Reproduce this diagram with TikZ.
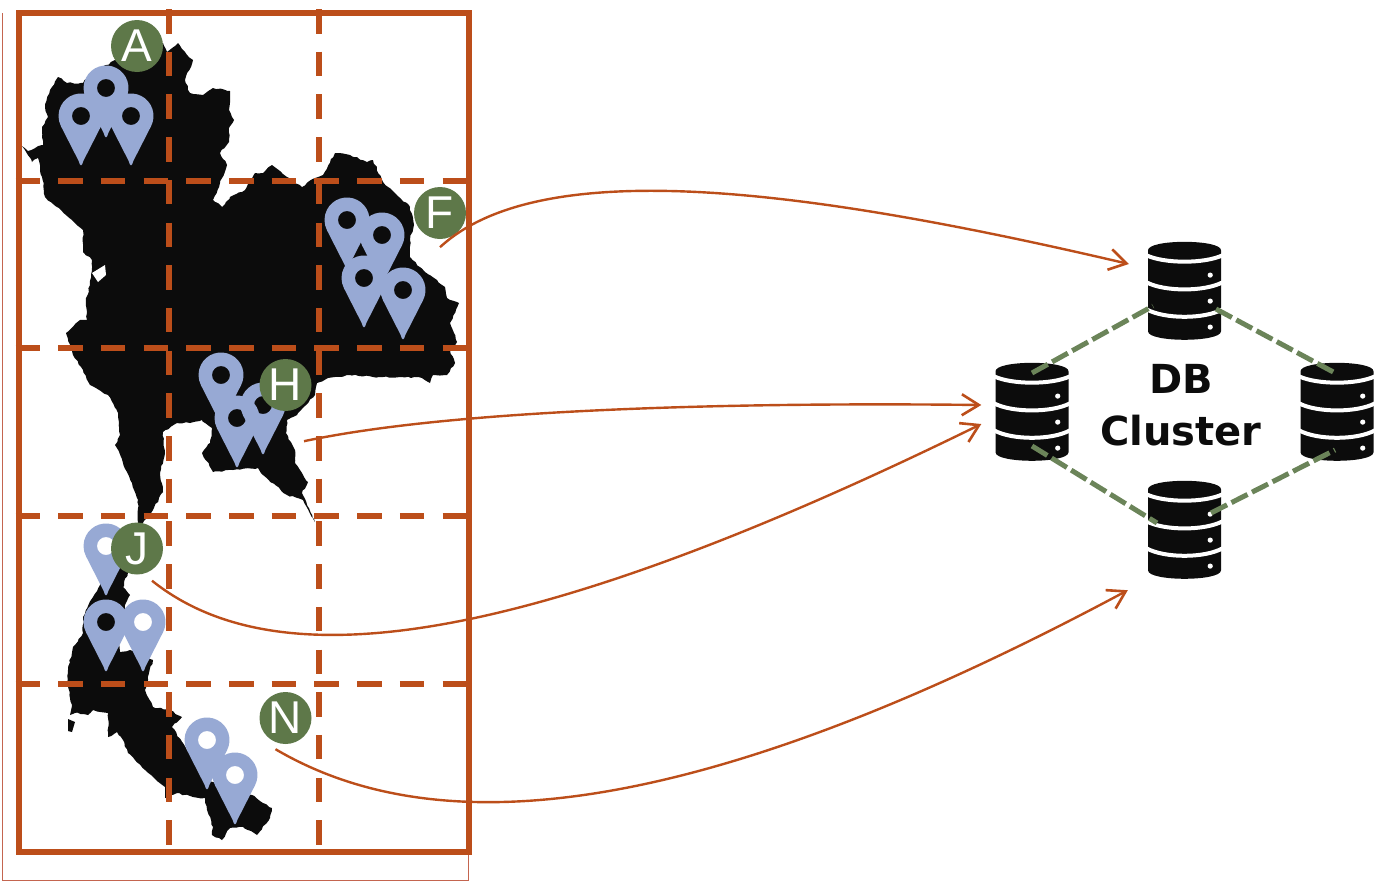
\documentclass[tikz,border=0pt]{standalone}
\usepackage{fontspec}
\setmainfont{Liberation Sans}
\newfontfamily\dbfont{DejaVu Sans}
\usetikzlibrary{arrows.meta,decorations.pathmorphing}
\definecolor{rust}{HTML}{BC4E1A}
\definecolor{thinrust}{HTML}{C4654F}
\definecolor{pinblue}{HTML}{97A9D4}
\definecolor{badgegreen}{HTML}{5E7849}
\definecolor{linkgreen}{HTML}{6B8459}
\definecolor{mapblack}{HTML}{0C0C0C}
\tikzset{
  gridline/.style={rust,line width=6pt,dash pattern=on 24.5pt off 18.2pt},
  badge/.style={circle,fill=badgegreen,text=white,minimum size=52pt,inner sep=0pt,font=\fontsize{46}{46}\selectfont},
  dbnode/.style={minimum width=73pt,minimum height=98pt,inner sep=0pt},
  link/.style={rust,line width=2.4pt,-{Straight Barb[length=17pt,width=21pt,line width=2.6pt]}},
  peer/.style={linkgreen,line width=5pt,dash pattern=on 18pt off 5pt},
  coast/.style={decorate,decoration={random steps,segment length=3.5pt,amplitude=0.8pt,pre length=0pt,post length=0pt}},
}
\pgfmathsetseed{7}
\newcommand{\pinmark}[2]{%
  \fill[pinblue,even odd rule,shift={(#1,#2)}]
    (20.05,10.2) arc[start angle=27,end angle=-207,radius=22.5]
    -- (-2.2,45.2) .. controls (-1.1,50.7) and (1.1,50.7) .. (2.2,45.2) -- cycle
    (0,0) circle[radius=9];}
\newcommand{\dbicon}[1]{%
  \begin{scope}[shift={(#1.north)}]
    \fill[mapblack] (-36.5,8.5) .. controls (-36.5,-2.8) and (36.5,-2.8) .. (36.5,8.5)
      -- (36.5,89.5) .. controls (36.5,100.8) and (-36.5,100.8) .. (-36.5,89.5) -- cycle;
    \draw[white,line width=4pt] (-38,13.5) .. controls (-20,22) and (20,22) .. (38,13.5);
    \draw[white,line width=4pt] (-38,40.5) .. controls (-20,50) and (20,50) .. (38,40.5);
    \draw[white,line width=4pt] (-38,67.5) .. controls (-20,77.5) and (20,77.5) .. (38,67.5);
    \fill[white] (25.7,33.3) circle[radius=2.6] (25.7,59.3) circle[radius=2.6] (25.7,85.3) circle[radius=2.6];
  \end{scope}}
\begin{document}
\begin{tikzpicture}[x=1pt,y=-1pt]
\useasboundingbox (0,0) rectangle (1400,881);
% thin outer line
\draw[thinrust,line width=1pt] (2.5,13) -- (2.5,880) -- (468.5,880) -- (468.5,855);
% map
\fill[mapblack,coast]
 (22,146) -- (28,151) -- (43,145) -- (42,127) -- (48,117) -- (45,107) -- (50,90) -- (58,77)
 -- (67,83) -- (83,83) -- (90,75) -- (115,60) -- (130,50) -- (163,43) -- (167,52) -- (178,43) -- (185,52) -- (193,60)
 -- (185,80) -- (190,93) -- (203,95) -- (213,88) -- (230,91) -- (229,110) -- (234,120) -- (229,128) -- (229,142)
 -- (220,153) -- (227,165) -- (220,183) -- (213,200) -- (222,207) -- (230,197) -- (245,190) -- (255,173) -- (263,173)
 -- (272,165) -- (287,177) -- (302,187) -- (315,178) -- (323,175) -- (335,153) -- (350,155) -- (367,162) -- (373,160)
 -- (383,182) -- (410,207) -- (414,225) -- (410,240) -- (410,257) -- (425,272) -- (445,287) -- (447,298) -- (459,303)
 -- (450,323) -- (457,342) -- (450,350) -- (455,363) -- (447,375) -- (433,375) -- (430,383) -- (422,378) -- (400,377)
 -- (373,377) -- (350,375) -- (328,378) -- (317,383) -- (315,395) -- (297,415) -- (287,420) -- (286,433) -- (295,450)
 -- (295,463) -- (308,482) -- (302,493) -- (315,522) -- (303,500) -- (287,495) -- (263,475) -- (258,468) -- (233,470)
 -- (213,472) -- (202,453) -- (210,443) -- (212,428) -- (202,420) -- (190,423) -- (177,423) -- (163,432) -- (165,453)
 -- (160,473) -- (163,492) -- (153,510) -- (143,523) -- (128,572) -- (123,587) -- (130,595) -- (125,605) -- (118,640)
 -- (120,652) -- (130,650) -- (140,655) -- (153,660) -- (145,690) -- (153,707) -- (170,710) -- (182,717) -- (172,727)
 -- (183,743) -- (205,780) -- (252,795) -- (272,808) -- (270,818) -- (257,835) -- (243,827) -- (230,828) -- (222,840)
 -- (212,835) -- (213,827) -- (207,810) -- (205,798) -- (193,797) -- (177,793) -- (165,798) -- (165,787) -- (145,770)
 -- (128,753) -- (123,740) -- (117,732) -- (108,737) -- (108,713) -- (93,710) -- (88,715) -- (75,713) -- (70,715)
 -- (72,705) -- (67,683) -- (68,670) -- (73,647) -- (83,633) -- (83,617) -- (93,597) -- (100,585) -- (125,550) -- (138,523)
 -- (138,500) -- (132,483) -- (127,472) -- (121,457) -- (115,445) -- (120,435) -- (118,413) -- (108,395) -- (90,385)
 -- (83,370) -- (73,355) -- (66,333) -- (80,320) -- (87,320) -- (86,298) -- (90,285) -- (92,260) -- (83,252) -- (83,230)
 -- (72,220) -- (45,197) -- (42,177) -- (38,158) -- (32,162) -- cycle;
\fill[mapblack] (68,719) -- (75,722) -- (72,732) -- (68,731) -- cycle;
\fill[white] (92,273) -- (105,265) -- (106,275) -- (98,282) -- cycle;
% grid
\foreach \gy in {181,348,516,684} \draw[gridline] (15.5,\gy) -- (468,\gy);
\foreach \gx in {169,318.5} \draw[gridline] (\gx,9) -- (\gx,855);
\draw[rust,line width=6pt] (19,13) rectangle (468.5,852);
% pins
\pinmark{106}{88}\pinmark{81}{116}\pinmark{131}{116}
\pinmark{403}{290}\pinmark{364}{278}\pinmark{382}{235}\pinmark{347}{220}
\pinmark{263}{405}\pinmark{221}{375}\pinmark{237}{418}
\pinmark{106}{546}\pinmark{143}{622}\pinmark{106}{622}
\pinmark{207}{740}\pinmark{235}{775}
% badges
\node[badge] (A) at (137,46) {A};
\node[badge] (F) at (440,213) {F};
\node[badge] (H) at (285.5,385) {H};
\node[badge] (J) at (137,548.5) {J};
\node[badge] (N) at (285.5,718) {N};
% databases
\node[dbnode] (db1) at (1184.5,291) {};
\node[dbnode] (db2) at (1032,412) {};
\node[dbnode] (db3) at (1337,412) {};
\node[dbnode] (db4) at (1184.5,530) {};
\dbicon{db1}\dbicon{db2}\dbicon{db3}\dbicon{db4}
% peer links
\draw[peer] ([shift={(0,-39)}]db2.center) -- ([shift={(-31.5,15)}]db1.center);
\draw[peer] ([shift={(31.5,18)}]db1.center) -- ([shift={(0,-38)}]db3.center);
\draw[peer] ([shift={(0,34)}]db2.center) -- ([shift={(-27.5,-7)}]db4.center);
\draw[peer] ([shift={(26.5,-17)}]db4.center) -- ([shift={(-2,38)}]db3.center);
\node[font=\dbfont\bfseries\fontsize{40}{52}\selectfont,align=center,text=mapblack] (title) at (1181,405) {DB\\Cluster};
% links
\draw[link] ([shift={(0,8)}]F.south) .. controls (540,155) and (800,187) .. ([shift={(-19,-27)}]db1.west);
\draw[link] ([shift={(18.5,30)}]H.south) .. controls (450,410) and (720,402) .. ([shift={(-14,-7)}]db2.west);
\draw[link] ([shift={(15,6)}]J.south) .. controls (270,675) and (500,660) .. ([shift={(-14,12)}]db2.west);
\draw[link] ([shift={(-10,5)}]N.south) .. controls (430,840) and (680,830) .. ([shift={(-20,11)}]db4.south west);
\end{tikzpicture}
\end{document}
